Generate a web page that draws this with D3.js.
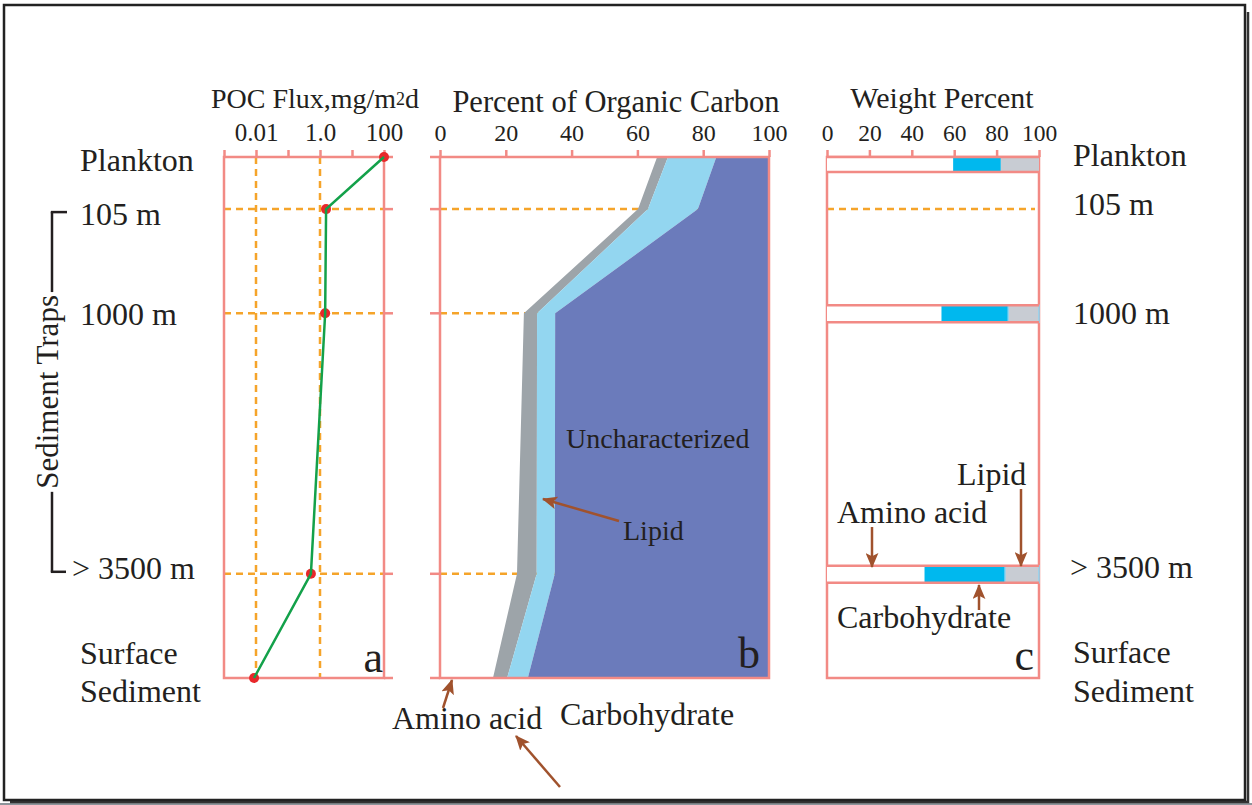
<!DOCTYPE html>
<meta charset="utf-8">
<script src="https://d3js.org/d3.v7.min.js"></script>
<html>
<head>
<style>
body { margin: 0; background: #fff; }
svg text { font-family: "Liberation Serif", "Times New Roman", serif; fill: #231f20; }
</style>
</head>
<body>
<svg id="chart" width="1252" height="805"></svg>
<script>

// depth levels (schematic column, not to scale) and their slot down the column
var levels = ["Plankton", "105 m", "1000 m", "> 3500 m", "Surface Sediment"];
var levelPos = [0, 1, 3, 8, 10];

// a: POC flux, mg/m2/d (log)
var pocFlux = [100, 1.55, 1.45, 0.52, 0.0087];
var fluxTicks = [0.001, 0.01, 0.1, 1, 10, 100];
var fluxTickLabels = ["", "0.01", "", "1.0", "", "100"];

// b: percent of organic carbon
var aminoPct  = [66, 60.2, 25.5, 23.4, 16.1];
var carbPct   = [3.3, 3.0, 4.0, 6.0, 4.3];
var lipidPct  = [14.7, 15.2, 5.5, 5.5, 6.3];
var uncharPct = [16, 21.6, 65, 65.1, 73.3];
var pctTicks = [0, 20, 40, 60, 80, 100];

// c: weight percent
var barLevels = ["Plankton", "1000 m", "> 3500 m"];
var barAmino = [59.5, 54, 46];
var barCarb  = [22.5, 31.5, 38];
var barLipid = [18, 14.5, 16];

var svg = d3.select("#chart");

var salmon = "#f28a85", orange = "#f5a42a", brown = "#a0522d";

var y  = d3.scaleLinear().domain([0, 10]).range([157, 678]);
var xa = d3.scaleLog().domain([0.001, 100]).range([224, 384]);
var xb = d3.scaleLinear().domain([0, 100]).range([440, 769]);
var xc = d3.scaleLinear().domain([0, 100]).range([827, 1039]);

// outer frame with a little shadow
svg.append("rect").attr("x", 0).attr("y", 803).attr("width", 1252).attr("height", 2).attr("fill", "#8d949a");
svg.append("path").attr("d", "M1248,12V802H10").attr("fill", "none").attr("stroke", "#333").attr("stroke-width", 2.5);
svg.append("rect").attr("x", 4).attr("y", 5).attr("width", 1241).attr("height", 795)
  .attr("fill", "none").attr("stroke", "#222").attr("stroke-width", 2.5);

// arrow head
svg.append("defs").append("marker")
    .attr("id", "head").attr("markerUnits", "userSpaceOnUse")
    .attr("viewBox", "0 0 14 12").attr("refX", 13).attr("refY", 6)
    .attr("markerWidth", 15).attr("markerHeight", 13).attr("orient", "auto")
  .append("path").attr("d", "M0,0L14,6L0,12L3,6Z").attr("fill", brown);

function dash(g, x1, y1, x2, y2) {
  g.append("line").attr("x1", x1).attr("y1", y1).attr("x2", x2).attr("y2", y2)
    .attr("stroke", orange).attr("stroke-width", 2.5).attr("stroke-dasharray", "7,5");
}
function seg(g, x1, y1, x2, y2, col, w) {
  g.append("line").attr("x1", x1).attr("y1", y1).attr("x2", x2).attr("y2", y2)
    .attr("stroke", col || salmon).attr("stroke-width", w || 2.5);
}
function arrow(x1, y1, x2, y2) {
  svg.append("line").attr("x1", x1).attr("y1", y1).attr("x2", x2).attr("y2", y2)
    .attr("stroke", brown).attr("stroke-width", 2.5).attr("marker-end", "url(#head)");
}
function styleAxis(size) {
  return function(g) {
    g.select(".domain").remove();
    g.selectAll(".tick line").attr("stroke", salmon).attr("stroke-width", 2.5);
    g.selectAll(".tick text").attr("font-size", size).attr("font-family", "Liberation Serif").attr("fill", "#231f20");
  };
}

// ---------- panel a ----------
var ga = svg.append("g");
[0.01, 1].forEach(function(v){ dash(ga, xa(v), y(0), xa(v), y(10)); });
[1, 3, 8].forEach(function(p){ dash(ga, xa.range()[0], y(p), xa.range()[1], y(p)); });
ga.append("rect").attr("x", 224).attr("y", y(0)).attr("width", 160).attr("height", y(10) - y(0))
  .attr("fill", "none").attr("stroke", salmon).attr("stroke-width", 2.5);
levelPos.forEach(function(p){ seg(ga, xa.range()[1], y(p), xa.range()[1] + 9, y(p)); });
ga.append("g").attr("transform", "translate(0," + y(0) + ")")
  .call(d3.axisTop(xa).tickValues(fluxTicks).tickSize(7).tickPadding(9)
    .tickFormat(function(d, i){ return fluxTickLabels[i]; }))
  .call(styleAxis(25));

var fluxPts = levels.map(function(l, i){ return {p: levelPos[i], v: pocFlux[i]}; });
ga.selectAll("circle").data(fluxPts).enter().append("circle")
  .attr("cx", function(d){ return xa(d.v); }).attr("cy", function(d){ return y(d.p); })
  .attr("r", 5).attr("fill", "#e8282b");
ga.append("path").datum(fluxPts)
  .attr("d", d3.line().x(function(d){ return xa(d.v); }).y(function(d){ return y(d.p); }))
  .attr("fill", "none").attr("stroke", "#13a14a").attr("stroke-width", 2.5);

ga.append("text").attr("x", 315).attr("y", 108).attr("text-anchor", "middle").attr("font-size", 28)
  .text("POC Flux,mg/m")
  .call(function(t){
    t.append("tspan").attr("font-size", 18).attr("dy", -3).text("2");
    t.append("tspan").attr("dy", 3).text("d");
  });
ga.append("text").attr("x", 383).attr("y", 672).attr("text-anchor", "end").attr("font-size", 44).text("a");

// ---------- panel b ----------
var gb = svg.append("g");
[1, 3, 8].forEach(function(p){ dash(gb, xb(0), y(p), xb(100), y(p)); });

var rows = levels.map(function(l, i){
  return {pos: levelPos[i], amino: aminoPct[i], carb: carbPct[i], lipid: lipidPct[i], unchar: uncharPct[i]};
});
var series = d3.stack().keys(["amino", "carb", "lipid", "unchar"])(rows);
var fills = {amino: "none", carb: "#9da4a9", lipid: "#93d6f0", unchar: "#6b7bbb"};
var area = d3.area()
  .y(function(d){ return y(d.data.pos); })
  .x0(function(d){ return xb(d[0]); })
  .x1(function(d){ return xb(d[1]); });
gb.selectAll("path.layer").data(series).enter().append("path").attr("class", "layer")
  .attr("d", area).attr("fill", function(d){ return fills[d.key]; });

gb.append("rect").attr("x", xb(0)).attr("y", y(0)).attr("width", xb(100) - xb(0)).attr("height", y(10) - y(0))
  .attr("fill", "none").attr("stroke", salmon).attr("stroke-width", 2.5);
levelPos.forEach(function(p){ seg(gb, xb(0) - 10, y(p), xb(0), y(p)); });
gb.append("g").attr("transform", "translate(0," + y(0) + ")")
  .call(d3.axisTop(xb).tickValues(pctTicks).tickSize(7).tickPadding(9))
  .call(styleAxis(24));

gb.append("text").attr("x", 616).attr("y", 112).attr("text-anchor", "middle").attr("font-size", 30.5)
  .text("Percent of Organic Carbon");
gb.append("text").attr("x", 566).attr("y", 448).attr("font-size", 28).text("Uncharacterized");
gb.append("text").attr("x", 623).attr("y", 540).attr("font-size", 28).text("Lipid");
gb.append("text").attr("x", 760).attr("y", 668).attr("text-anchor", "end").attr("font-size", 44).text("b");
arrow(619, 521, 543, 499);

svg.append("text").attr("x", 392).attr("y", 729).attr("font-size", 32).text("Amino acid");
svg.append("text").attr("x", 560).attr("y", 725).attr("font-size", 32).text("Carbohydrate");
arrow(443, 708, 452, 680);
arrow(560, 787, 516, 736);

// ---------- panel c ----------
var gc = svg.append("g");
dash(gc, xc(0), y(1), xc(100) - 4, y(1));
gc.append("rect").attr("x", xc(0)).attr("y", y(0)).attr("width", xc(100) - xc(0)).attr("height", y(10) - y(0))
  .attr("fill", "none").attr("stroke", salmon).attr("stroke-width", 2.5);

var bars = barLevels.map(function(l, i){
  var p = levelPos[levels.indexOf(l)];
  return {level: l, pos: p, segs: [
    {k: "amino", a: 0, b: barAmino[i]},
    {k: "carb", a: barAmino[i], b: barAmino[i] + barCarb[i]},
    {k: "lipid", a: barAmino[i] + barCarb[i], b: barAmino[i] + barCarb[i] + barLipid[i]}
  ]};
});
var segFill = {amino: "#fff", carb: "#00b8ee", lipid: "#c8ccd3"};
var barH = function(d){ return d.pos > 0 ? 17 : 15; };
var barTop = function(d){ return Math.max(y(0), y(d.pos) - 8); };
var bg = gc.selectAll("g.bar").data(bars).enter().append("g").attr("class", "bar");
bg.selectAll("rect").data(function(d){ return d.segs.map(function(s){ return {s: s, d: d}; }); })
  .enter().append("rect")
  .attr("x", function(e){ return xc(e.s.a); })
  .attr("width", function(e){ return xc(e.s.b) - xc(e.s.a); })
  .attr("y", function(e){ return barTop(e.d); })
  .attr("height", function(e){ return barH(e.d); })
  .attr("fill", function(e){ return segFill[e.s.k]; })
  .attr("stroke", function(e){ return e.s.k === "lipid" && e.d.pos > 0 ? "#8fd3f0" : "none"; })
  .attr("stroke-width", 1.5);
bg.each(function(d){
  seg(d3.select(this), xc(0), barTop(d), xc(100), barTop(d));
  seg(d3.select(this), xc(0), barTop(d) + barH(d), xc(100), barTop(d) + barH(d));
});
gc.append("g").attr("transform", "translate(0," + y(0) + ")")
  .call(d3.axisTop(xc).tickValues(pctTicks).tickSize(7).tickPadding(9))
  .call(styleAxis(23.5));

gc.append("text").attr("x", 942).attr("y", 108).attr("text-anchor", "middle").attr("font-size", 30).text("Weight Percent");
gc.append("text").attr("x", 957).attr("y", 485).attr("font-size", 32).text("Lipid");
gc.append("text").attr("x", 837).attr("y", 523).attr("font-size", 32).text("Amino acid");
gc.append("text").attr("x", 837).attr("y", 628).attr("font-size", 32).text("Carbohydrate");
gc.append("text").attr("x", 1034).attr("y", 670).attr("text-anchor", "end").attr("font-size", 44).text("c");
arrow(872, 527, 872, 567);
arrow(1021, 489, 1021, 566);
arrow(979, 610, 979, 585);

// ---------- depth labels on both sides ----------
var leftNudge  = [3, 5, 1, -6];
var rightNudge = [-2, -5, 0, -7];
levels.slice(0, 4).forEach(function(l, i){
  svg.append("text").attr("x", i === 3 ? 72 : 80).attr("y", y(levelPos[i]) + leftNudge[i])
    .attr("dominant-baseline", "central").attr("font-size", 32).text(l);
  svg.append("text").attr("x", i === 3 ? 1070 : 1073).attr("y", y(levelPos[i]) + rightNudge[i])
    .attr("dominant-baseline", "central").attr("font-size", 32).text(l);
});
levels[4].split(" ").forEach(function(w, j){
  svg.append("text").attr("x", 80).attr("y", y(10) - 25 + j * 38).attr("dominant-baseline", "central")
    .attr("font-size", 32).text(w);
  svg.append("text").attr("x", 1073).attr("y", y(10) - 26 + j * 39).attr("dominant-baseline", "central")
    .attr("font-size", 32).text(w);
});

// sediment trap bracket
var bx = 52, by0 = y(1) + 3, by1 = y(8) - 2, bmid = (by0 + by1) / 2;
var trap = svg.append("text").attr("transform", "translate(" + (bx + 6) + "," + bmid + ") rotate(-90)")
  .attr("text-anchor", "middle").attr("font-size", 31).text("Sediment Traps");
var half = trap.node().getComputedTextLength() / 2 + 3;
seg(svg, bx, by0, bx, bmid - half, "#231f20", 2.5);
seg(svg, bx, bmid + half, bx, by1, "#231f20", 2.5);
seg(svg, bx - 1.2, by0, bx + 15, by0, "#231f20", 2.5);
seg(svg, bx - 1.2, by1, bx + 14, by1, "#231f20", 2.5);

</script>
</body>
</html>
